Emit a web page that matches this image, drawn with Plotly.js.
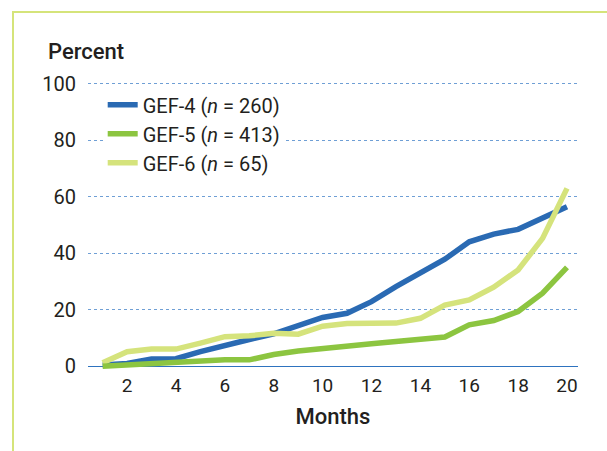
<!DOCTYPE html>
<html><head><meta charset="utf-8">
<script src="https://cdn.plot.ly/plotly-3.0.1.min.js"></script>
<style>
html,body{margin:0;padding:0;background:#fff;overflow:hidden}
#wrap{position:relative;width:607px;height:451px}
#chart{width:607px;height:451px}
#frame{position:absolute;left:12px;top:10.5px;width:700px;height:600px;border-left:2.5px solid #d5e47a;border-top:2.5px solid #d5e47a;pointer-events:none}
</style></head><body>
<div id="wrap"><div id="chart"></div><div id="frame"></div></div>
<script>
const months = [1,2,3,4,5,6,7,8,9,10,11,12,13,14,15,16,17,18,19,20];
const gef4 = [0.5,1,2.6,2.7,5.2,7.5,9.5,11.5,14.3,17.3,18.8,22.9,28.2,33.1,37.9,44.1,46.8,48.5,52.6,56.5];
const gef5 = [0,0.5,0.8,1.2,2.0,2.3,2.3,4.2,5.4,6.4,7.2,8.0,8.8,9.6,10.4,14.7,16.2,19.4,25.9,35];
const gef6 = [1.3,5.2,6.1,6.1,8.2,10.5,10.8,11.7,11.4,14.2,15.2,15.3,15.3,17,21.7,23.5,28,34.1,45.3,63];
const names = ['GEF-4 (<i>n</i> = 260)','GEF-5 (<i>n</i> = 413)','GEF-6 (<i>n</i> = 65)'];
const xTicks = [2,4,6,8,10,12,14,16,18,20];
const yTicks = [0,20,40,60,80,100];

const txt = '#231f20';
const mk = (y, name, color, rank) => ({
  x: months, y: y, name: name, type: 'scatter', mode: 'lines',
  line: {color: color, width: 5.5}, legendrank: rank, legendgroup: 'g' + rank
});
const data = [
  mk(gef4, names[0], '#2a6ab3', 1),
  mk(gef6, names[2], '#d5e37c', 3),
  mk(gef5, names[1], '#8cc540', 2)
];
const layout = {
  width: 607, height: 451,
  margin: {l: 88, r: 29, t: 81, b: 79},
  paper_bgcolor: '#fff', plot_bgcolor: '#fff',
  font: {family: 'Roboto, sans-serif', color: txt},
  showlegend: true,
  legend: {x: 0.03, y: 0.985, xanchor: 'left', yanchor: 'top', bgcolor: '#fff',
           font: {size: 20, color: txt, family: 'Roboto, sans-serif'}, tracegroupgap: 0, traceorder: 'grouped'},
  xaxis: {range: [0.4, 20.45], tickvals: xTicks, ticktext: xTicks.map(String), showgrid: false, zeroline: false,
          showline: false, ticks: '', tickfont: {size: 19, family: 'Roboto, sans-serif', color: txt},
          title: {text: 'Months', font: {size: 22, family: 'Roboto, sans-serif', weight: 500, color: txt}, standoff: 12}},
  yaxis: {range: [-2, 101], tickvals: yTicks, ticktext: yTicks.map(String), showgrid: true, gridcolor: '#6f9fd5', griddash: 'dot', gridwidth: 1,
          zeroline: true, zerolinecolor: '#2e73bf', zerolinewidth: 1.5, showline: false,
          ticks: 'outside', ticklen: 7, tickcolor: 'rgba(0,0,0,0)',
          tickfont: {size: 20, family: 'Roboto, sans-serif', color: txt}},
  annotations: [{text: 'Percent', xref: 'paper', yref: 'paper', x: -0.0857, y: 1.103, xanchor: 'left', yanchor: 'middle',
                 showarrow: false, font: {size: 22, family: 'Roboto, sans-serif', weight: 500, color: txt}}]
};
Plotly.newPlot('chart', data, layout, {displayModeBar: false, staticPlot: true});
</script>
</body></html>
